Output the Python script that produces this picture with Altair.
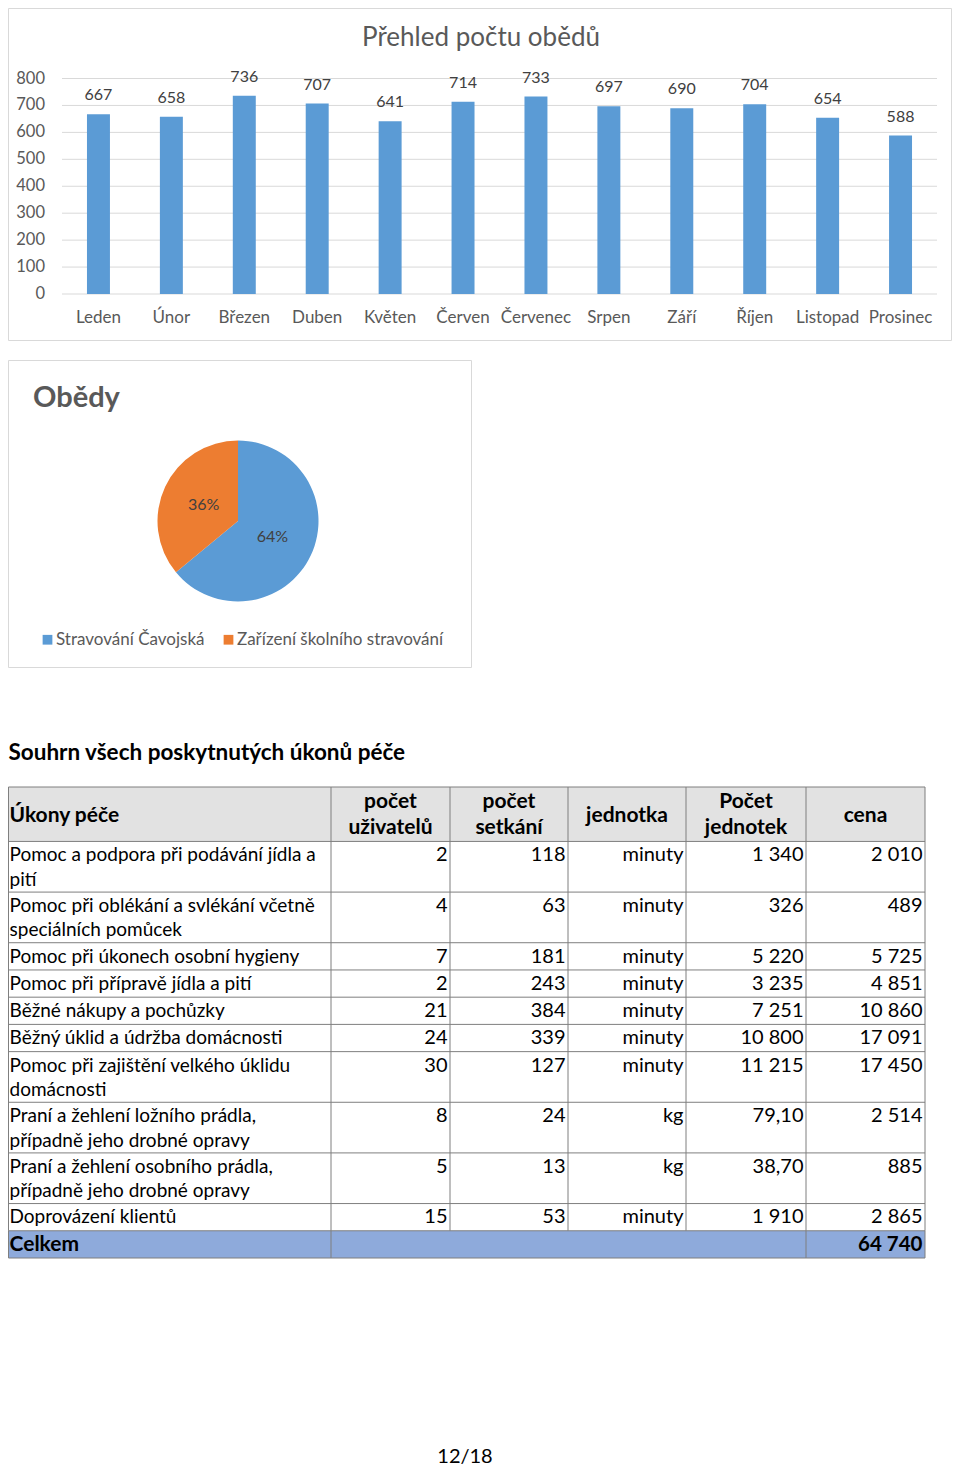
import altair as alt
import pandas as pd

# ------------------------------------------------------------------ data
months = ["Leden", "Únor", "Březen", "Duben", "Květen", "Červen",
          "Červenec", "Srpen", "Září", "Říjen", "Listopad", "Prosinec"]
lunches = [667, 658, 736, 707, 641, 714, 733, 697, 690, 704, 654, 588]
y_ticks = [0, 100, 200, 300, 400, 500, 600, 700, 800]

pie_categories = ["Stravování Čavojská", "Zařízení školního stravování"]
pie_shares = [64, 36]

care_tasks = [
    "Pomoc a podpora při podávání jídla a\npití",
    "Pomoc při oblékání a svlékání včetně\nspeciálních pomůcek",
    "Pomoc při úkonech osobní hygieny",
    "Pomoc při přípravě jídla a pití",
    "Běžné nákupy a pochůzky",
    "Běžný úklid a údržba domácnosti",
    "Pomoc při zajištění velkého úklidu\ndomácnosti",
    "Praní a žehlení ložního prádla,\npřípadně jeho drobné opravy",
    "Praní a žehlení osobního prádla,\npřípadně jeho drobné opravy",
    "Doprovázení klientů",
]
care_users = [2, 4, 7, 2, 21, 24, 30, 8, 5, 15]
care_visits = [118, 63, 181, 243, 384, 339, 127, 24, 13, 53]
care_unit = ["minuty", "minuty", "minuty", "minuty", "minuty", "minuty",
             "minuty", "kg", "kg", "minuty"]
care_amount = [1340, 326, 5220, 3235, 7251, 10800, 11215, 79.10, 38.70, 1910]
care_price = [2010, 489, 5725, 4851, 10860, 17091, 17450, 2514, 885, 2865]
header_labels = ["Úkony péče", "počet\nuživatelů", "počet\nsetkání",
                 "jednotka", "Počet\njednotek", "cena"]

bar_title = "Přehled počtu obědů"
pie_title = "Obědy"
table_title = "Souhrn všech poskytnutých úkonů péče"
total_label = "Celkem"
page_label = "12/18"

# ------------------------------------------------------------------ layout helpers
OX, OY = 8, 8
W, H = 944, 1460


def X(p):
    return min(max(p - OX, 0.5), W - 0.5)


def Y(p):
    return max(p - OY, 0.5)


def fmt_int(v):
    return f"{int(round(v)):,}".replace(",", " ")


def fmt_amount(v, unit):
    if unit == "kg":
        return f"{v:.2f}".replace(".", ",")
    return fmt_int(v)


def label(text, x, y, **kw):
    return alt.Chart(pd.DataFrame({"t": [text]})).mark_text(**kw).encode(
        text="t:N", x=alt.value(x), y=alt.value(y))


def frame(x0, y0, x1, y1, color="#d9d9d9"):
    return alt.Chart(pd.DataFrame({"k": [0]})).mark_rect(
        fillOpacity=0, stroke=color, strokeWidth=1).encode(
        x=alt.value(x0), x2=alt.value(x1), y=alt.value(y0), y2=alt.value(y1))


GREY = "#595959"
DARK = "#404040"

# ------------------------------------------------------------------ bar chart
bar_df = pd.DataFrame({"month": months, "value": lunches})
tick_df = pd.DataFrame({"tick": y_ticks})

xs = alt.Scale(domain=months, range=[X(62), X(937)],
               paddingInner=0.685, paddingOuter=0.3425)
ys = alt.Scale(domain=[0, 800], range=[Y(294), Y(78.5)], nice=False)

bx = alt.X("month:N", scale=xs, axis=None, sort=months)
by = alt.Y("value:Q", scale=ys, axis=None)

grid = alt.Chart(tick_df).mark_rule(color="#d9d9d9", strokeWidth=1).encode(
    y=alt.Y("tick:Q", scale=ys, axis=None), x=alt.value(X(62)), x2=alt.value(X(937)))
ylab = alt.Chart(tick_df).mark_text(align="right", baseline="middle", fontSize=16.5,
                                    color=GREY).encode(
    y=alt.Y("tick:Q", scale=ys, axis=None), x=alt.value(X(45)), text="tick:Q")
bars = alt.Chart(bar_df).mark_bar(color="#5b9bd5").encode(x=bx, y=by)
vals = alt.Chart(bar_df).mark_text(baseline="alphabetic", dy=-14, fontSize=16,
                                   color=DARK).encode(x=bx, y=by, text="value:Q")
xlab = alt.Chart(bar_df).mark_text(baseline="alphabetic", fontSize=17, color=GREY).encode(
    x=bx, y=alt.value(Y(323)), text="month:N")
btitle = label(bar_title, X(481), Y(46), fontSize=26, color=GREY, baseline="alphabetic")
bframe = frame(0.5, 0.5, W - 0.5, Y(341) - 0.5)

# ------------------------------------------------------------------ pie chart
pie_df = pd.DataFrame({
    "cat": pie_categories,
    "share": pie_shares,
    "idx": list(range(len(pie_categories))),
    "lbl": [f"{s}%" for s in pie_shares],
})
cx, cy = X(238), Y(521)
theta = alt.Theta("share:Q", stack=True)
arc = alt.Chart(pie_df).mark_arc(outerRadius=80.5).encode(
    theta=theta,
    order=alt.Order("idx:Q"),
    color=alt.Color("cat:N",
                    scale=alt.Scale(domain=pie_categories, range=["#5b9bd5", "#ed7d31"]),
                    legend=alt.Legend(orient="none", legendX=X(39), legendY=Y(631),
                                      direction="horizontal", title=None,
                                      symbolType="square", symbolSize=95,
                                      symbolStrokeWidth=0, labelFontSize=17,
                                      labelColor=GREY, labelFont="Lato",
                                      labelOffset=0, columnPadding=15, padding=0,
                                      labelLimit=400)),
    x=alt.value(cx), y=alt.value(cy))
arc_txt = alt.Chart(pie_df).mark_text(radius=38, fontSize=16, color=DARK).encode(
    theta=theta, order=alt.Order("idx:Q"), text="lbl:N",
    x=alt.value(cx), y=alt.value(cy))
ptitle = label(pie_title, X(33), Y(407), fontSize=29, fontWeight="bold", color=GREY,
               align="left", baseline="alphabetic")
pframe = frame(0.5, Y(360) + 0.5, X(472) - 0.5, Y(668) - 0.5)

# ------------------------------------------------------------------ table
COL_EDGES = [X(4), X(331), X(450), X(568), X(686), X(806), X(925)]
EXTRA_LINE = 0.86  # a wrapped line adds a little less than one row height
row_units = [2.0] + [1 + EXTRA_LINE * t.count("\n") for t in care_tasks] + [1.0]
starts = [sum(row_units[:i]) for i in range(len(row_units))]
n_units = sum(row_units)
ty = alt.Scale(domain=[0, n_units], range=[Y(787), Y(1258)], nice=False, zero=False)

BASE = 0.73
body_left = []
body_right = []
for r, task in enumerate(care_tasks):
    l0 = starts[r + 1]
    body_left.append({"t": task, "ty": l0 + BASE})
    cells = [str(care_users[r]), str(care_visits[r]), care_unit[r],
             fmt_amount(care_amount[r], care_unit[r]), fmt_int(care_price[r])]
    for c, txt in enumerate(cells, start=1):
        body_right.append({"t": txt, "ty": l0 + BASE, "xr": COL_EDGES[c + 1] - 2.5})

hdr_center = []
for c in range(1, 6):
    two = "\n" in header_labels[c]
    hdr_center.append({"t": header_labels[c], "ty": 0.77 if two else 1.29,
                       "xc": (COL_EDGES[c] + COL_EDGES[c + 1]) / 2})

total_row = starts[-1]
bounds = sorted(set(starts + [n_units]))

bg_df = pd.DataFrame({"l0": [0, total_row], "l1": [starts[1], n_units],
                      "fill": ["#e2e2e2", "#8eaadb"]})
hline_df = pd.DataFrame({"b": bounds})
vl = [{"xe": e, "l0": 0, "l1": total_row} for e in COL_EDGES]
vl += [{"xe": COL_EDGES[i], "l0": total_row, "l1": n_units} for i in (0, 1, 5, 6)]
vline_df = pd.DataFrame(vl)

LINE = "#7f7f7f"
bg = alt.Chart(bg_df).mark_rect().encode(
    y=alt.Y("l0:Q", scale=ty, axis=None), y2="l1:Q",
    x=alt.value(COL_EDGES[0]), x2=alt.value(COL_EDGES[-1]),
    color=alt.Color("fill:N", scale=None))
hlines = alt.Chart(hline_df).mark_rule(color=LINE, strokeWidth=1).encode(
    y=alt.Y("b:Q", scale=ty, axis=None),
    x=alt.value(COL_EDGES[0]), x2=alt.value(COL_EDGES[-1]))
vlines = alt.Chart(vline_df).mark_rule(color=LINE, strokeWidth=1).encode(
    x=alt.X("xe:Q", scale=None, axis=None),
    y=alt.Y("l0:Q", scale=ty, axis=None), y2="l1:Q")

t_left = alt.Chart(pd.DataFrame(body_left)).mark_text(
    align="left", baseline="alphabetic", fontSize=19, color="black",
    lineBreak="\n", lineHeight=24.5).encode(
    x=alt.value(1.5), y=alt.Y("ty:Q", scale=ty, axis=None), text="t:N")
t_right = alt.Chart(pd.DataFrame(body_right)).mark_text(
    align="right", baseline="alphabetic", fontSize=20, color="black").encode(
    x=alt.X("xr:Q", scale=None, axis=None), y=alt.Y("ty:Q", scale=ty, axis=None),
    text="t:N")
h_left = alt.Chart(pd.DataFrame([{"t": header_labels[0], "ty": 1.29}])).mark_text(
    align="left", baseline="alphabetic", fontSize=21, fontWeight="bold",
    color="black").encode(
    x=alt.value(1.5), y=alt.Y("ty:Q", scale=ty, axis=None), text="t:N")
h_center = alt.Chart(pd.DataFrame(hdr_center)).mark_text(
    align="center", baseline="alphabetic", fontSize=21, fontWeight="bold",
    color="black", lineBreak="\n", lineHeight=26).encode(
    x=alt.X("xc:Q", scale=None, axis=None), y=alt.Y("ty:Q", scale=ty, axis=None),
    text="t:N")
tot_l = alt.Chart(pd.DataFrame([{"t": total_label, "ty": total_row + BASE}])).mark_text(
    align="left", baseline="alphabetic", fontSize=21, fontWeight="bold",
    color="black").encode(
    x=alt.value(1.5), y=alt.Y("ty:Q", scale=ty, axis=None), text="t:N")
tot_r = alt.Chart(pd.DataFrame([{"t": fmt_int(sum(care_price)),
                                 "ty": total_row + BASE,
                                 "xr": COL_EDGES[-1] - 2.5}])).mark_text(
    align="right", baseline="alphabetic", fontSize=20.5, fontWeight="bold",
    color="black").encode(
    x=alt.X("xr:Q", scale=None, axis=None), y=alt.Y("ty:Q", scale=ty, axis=None),
    text="t:N")

ttitle = label(table_title, 0.5, Y(760), fontSize=22.5, fontWeight="bold",
               color="black", align="left", baseline="alphabetic")
page_num = label(page_label, X(465), Y(1463), fontSize=20, color="black",
                 align="center", baseline="alphabetic")

# ------------------------------------------------------------------ compose
chart = alt.layer(
    bframe, grid, ylab, bars, vals, xlab, btitle,
    pframe, arc, arc_txt, ptitle,
    ttitle, bg, hlines, vlines, t_left, t_right, h_left, h_center, tot_l, tot_r,
    page_num,
).resolve_scale(
    x="independent", y="independent", color="independent", theta="independent"
).properties(
    width=W, height=H, padding=0,
    autosize=alt.AutoSizeParams(type="none"),
).configure(font="Lato").configure_view(strokeWidth=0)

chart.save("out.html", embed_options={"renderer": "svg", "actions": False})
